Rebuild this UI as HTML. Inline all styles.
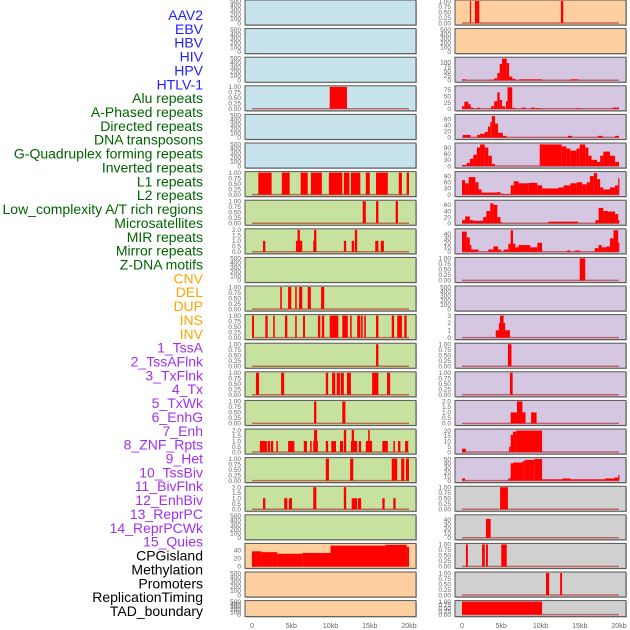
<!DOCTYPE html>
<html><head><meta charset="utf-8"><style>
html,body{margin:0;padding:0;background:#fff;width:630px;height:630px;overflow:hidden}
svg{display:block;font-family:"Liberation Sans",sans-serif}
</style></head><body>
<svg id="chart" width="630" height="630" viewBox="0 0 630 630" xmlns="http://www.w3.org/2000/svg"></svg>
<script>
const labels = ["AAV2","EBV","HBV","HIV","HPV","HTLV-1","Alu repeats","A-Phased repeats","Directed repeats","DNA transposons","G-Quadruplex forming repeats","Inverted repeats","L1 repeats","L2 repeats","Low_complexity A/T rich regions","Microsatellites","MIR repeats","Mirror repeats","Z-DNA motifs","CNV","DEL","DUP","INS","INV","1_TssA","2_TssAFlnk","3_TxFlnk","4_Tx","5_TxWk","6_EnhG","7_Enh","8_ZNF_Rpts","9_Het","10_TssBiv","11_BivFlnk","12_EnhBiv","13_ReprPC","14_ReprPCWk","15_Quies","CPGisland","Methylation","Promoters","ReplicationTiming","TAD_boundary"];
const labelGroups = ["v","v","v","v","v","v","r","r","r","r","r","r","r","r","r","r","r","r","r","c","c","c","c","c","s","s","s","s","s","s","s","s","s","s","s","s","s","s","s","o","o","o","o","o"];
const xTicks = [0,5,10,15,20];
const xTickLabels = ["0","5kb","10kb","15kb","20kb"];
const leftFill = ["b","b","b","b","b","b","g","g","g","g","g","g","g","g","g","g","g","g","g","o","o","o"];
const rightFill = ["o","o","p","p","p","p","p","p","p","p","p","p","p","p","p","p","p","gr","gr","gr","gr","gr"];
const leftTickType = ["big","big","big","unit","big","big","unit","unit","two","big","unit","unit","unit","unit","unit","two","unit","two","big","cpg","big","big"];
const rightTickType = ["unit","big","r3","r4","r5","r6","r6","r5","r9","unit","big","r12","unit","unit","two","r16","r17","unit","r9","unit","unit","unit"];
const leftBars = [
 [],[],[],[[9.9,12.1,1]],[],[],
 [[0.8,2.5,1],[3.8,4.8,1],[6.2,7.1,1],[7.5,8.9,1],[9.8,11.5,1],[11.7,12.4,1],[12.6,13.8,1],[14.5,15.0,1],[15.8,17.3,1],[18.7,19.1,1],[19.7,20.0,1]],
 [[14.1,14.5,1],[15.8,16.1,1],[18.3,18.6,1]],
 [[1.4,1.7,1],[5.6,6.4,1],[5.8,6.1,2],[7.8,8.2,1],[7.9,8.2,2],[11.7,12.0,1],[12.7,13.0,1],[13.1,13.4,2],[15.7,16.1,1],[16.4,16.8,1]],
 [],
 [[3.6,3.8,1],[4.6,5.0,1],[5.5,5.7,1],[6.0,6.4,1],[7.1,7.5,1],[8.8,9.2,1]],
 [[0,0.25,1],[1.7,2.0,1],[2.7,2.9,1],[4.2,4.5,1],[5.5,5.7,1],[6.5,6.75,1],[8.4,8.7,1],[8.9,9.2,1],[9.9,11.0,1],[11.5,12.2,1],[12.5,12.7,1],[13.4,13.8,1],[13.9,14.1,1],[14.3,14.5,1],[15.8,16.1,1],[17.8,18.1,1],[18.5,19.1,1],[19.4,19.7,1]],
 [[15.8,16.1,1]],
 [[0.5,0.9,1],[3.7,4.1,1],[9.4,9.7,1],[10.2,10.6,1],[10.8,11.2,1],[11.3,11.7,1],[12.1,12.6,1],[15.3,16.1,1],[17.2,17.6,1]],
 [[7.9,8.2,1],[11.5,11.9,1]],
 [[1.0,1.9,1],[2.0,2.3,1],[2.4,2.7,1],[3.1,3.3,1],[4.6,5.4,1],[6.6,7.0,1],[7.4,7.6,1],[7.8,8.4,1],[7.9,8.3,2],[9.4,9.7,1],[10.1,10.7,1],[11.2,11.6,1],[11.7,12.0,2],[12.6,13.4,1],[12.7,13.0,2],[13.6,13.9,1],[14.5,15.3,1],[14.8,15.0,2],[16.6,17.3,1],[18.0,18.2,1],[18.6,18.9,1],[19.5,19.9,1]],
 [[9.4,9.8,1],[12.5,12.9,1],[17.8,18.5,1],[19.0,19.4,1],[19.6,20.0,1]],
 [[1.4,1.7,1],[4.1,4.5,1],[4.7,5.1,1],[7.8,8.2,2],[11.7,12.0,2],[12.7,13.4,1],[13.5,13.9,1],[16.6,16.9,1],[18.0,18.3,1]],
 [],
 [[0,1.2,37],[1.2,3.2,35],[3.2,6.4,31],[6.4,10.0,33],[10.0,17.0,51],[17.0,19.7,53],[19.7,20.0,48]],
 [],[]
];
const rightBars = [
 [[1.0,1.15,1],[1.65,1.9,1],[1.9,2.2,1],[12.6,12.9,1]],
 [],
 [[0,0.5,5],[3.4,4.1,3],[4.1,4.5,10],[4.5,4.8,40],[4.8,5.1,90],[5.1,5.7,120],[5.7,6.0,95],[6.0,6.4,20],[6.4,6.8,8],[7.3,9.0,5],[9.0,10.2,5],[13.8,14.8,5]],
 [[0,0.3,10],[0.3,0.8,28],[0.8,1.1,18],[1.1,1.4,5],[1.9,2.3,4],[3.7,4.1,10],[4.1,4.5,30],[4.5,4.8,65],[4.8,5.1,35],[5.1,5.5,10],[5.6,5.8,30],[5.8,6.4,85],[6.4,6.8,4],[7.6,8.1,5],[8.8,9.2,5],[9.2,9.9,3],[14.6,15.0,3],[19.2,20.0,5]],
 [[0.1,1.1,8],[1.9,2.3,8],[2.3,2.9,12],[2.9,3.3,18],[3.3,3.6,35],[3.6,3.8,50],[3.8,4.2,70],[4.2,4.6,45],[4.6,5.2,15],[5.2,5.7,5],[13.5,14.0,5],[17.3,17.9,5],[19.5,20.0,5]],
 [[0,0.6,5],[0.6,1.0,15],[1.0,1.45,35],[1.45,1.9,55],[1.9,2.3,90],[2.3,2.9,105],[2.9,3.35,90],[3.35,3.8,50],[3.8,4.2,10],[9.9,12.7,105],[12.7,13.3,95],[13.3,13.8,85],[13.8,14.6,75],[14.6,15.0,85],[15.0,15.7,105],[15.7,16.1,90],[16.1,16.5,50],[16.5,17.2,30],[17.2,17.6,20],[17.6,18.0,50],[18.0,18.85,70],[18.85,19.5,50],[19.5,20,20]],
 [[0,0.4,70],[0.4,0.85,55],[0.85,1.7,85],[1.7,2.1,60],[2.1,2.5,25],[2.5,4.5,10],[4.5,4.9,12],[4.9,5.3,5],[5.3,6.2,3],[6.2,6.6,45],[6.6,7.2,65],[7.2,8.5,55],[8.5,9.6,57],[9.6,10.2,45],[10.2,12.3,30],[12.3,12.95,35],[12.95,13.8,45],[13.8,14.6,55],[14.6,15.3,60],[15.3,15.9,50],[15.9,16.3,60],[16.3,16.8,90],[16.8,17.2,105],[17.2,17.6,75],[17.6,18.0,35],[18.0,18.85,25],[18.85,19.5,35],[19.5,19.9,45],[19.9,20,80]],
 [[0,0.4,10],[0.4,1.0,22],[1.0,1.45,10],[1.45,2.7,8],[2.7,3.1,20],[3.1,3.6,40],[3.6,4.0,65],[4.0,4.5,60],[4.5,4.9,20],[4.9,5.1,3],[11.0,14.8,5],[17.0,17.4,10],[17.4,18.0,50],[18.0,18.6,40],[18.6,19.5,38],[19.5,19.9,30],[19.9,20,10]],
 [[0,0.6,45],[0.6,1.0,32],[1.0,1.2,15],[1.2,2.1,5],[3.35,4.0,5],[4.0,4.6,12],[4.6,5.0,5],[5.3,5.9,5],[5.9,6.2,18],[6.2,6.5,48],[6.5,6.8,18],[6.8,7.2,10],[7.2,8.7,15],[8.7,9.6,10],[9.6,10.2,20],[13.4,13.8,3],[14.4,15.0,3],[16.9,17.4,8],[17.4,17.8,15],[17.8,18.4,10],[18.4,18.85,12],[18.85,19.3,30],[19.3,19.9,48],[19.9,20,20]],
 [[15.0,15.7,1]],
 [],
 [[4.3,6.1,1],[4.7,5.5,2],[4.85,5.3,3]],
 [[5.85,6.3,1]],
 [[6.1,6.45,1]],
 [[6.2,8.1,1],[7.0,7.7,2],[8.8,9.5,1]],
 [[0,0.5,3],[6.0,6.2,5],[6.2,6.5,16],[6.5,6.9,19],[6.9,10.2,20]],
 [[0,0.4,5],[5.9,6.2,5],[6.2,6.5,40],[6.5,7.7,42],[7.7,8.0,45],[8.0,9.2,48],[9.2,10.2,50],[10.2,12.8,3],[12.8,13.8,5],[13.8,18.2,3],[18.2,19.4,5],[19.4,19.9,7],[19.9,20,13]],
 [[4.85,5.85,1]],
 [[3.05,3.65,42]],
 [[0.5,0.75,1],[2.55,2.9,1],[3.05,3.3,1],[5.0,5.7,1]],
 [[10.7,11.1,1],[12.5,12.75,1]],
 [[0,10.2,1]]
];
const tickValues = {big:[0,100,200,300,400,500],unit:[0,0.25,0.5,0.75,1],two:[0,0.5,1,1.5,2],cpg:[0,20,40],r3:[0,25,50,75,100],r4:[0,25,50,75],r5:[0,20,40,60],r6:[0,30,60,90],r9:[0,10,20,30,40],r12:[0,1,2,3],r16:[0,5,10,15,20],r17:[0,10,20,30,40,50]};
const tickText = {big:["0","100","200","300","400","500"],unit:["0.00","0.25","0.50","0.75","1.00"],two:["0.0","0.5","1.0","1.5","2.0"],cpg:["0","20","40"],r3:["0","25","50","75","100"],r4:["0","25","50","75"],r5:["0","20","40","60"],r6:["0","30","60","90"],r9:["0","10","20","30","40"],r12:["0","1","2","3"],r16:["0","5","10","15","20"],r17:["0","10","20","30","40","50"]};
const domainMax = {big:500,unit:1,two:2,cpg:54,r3:122,r4:87,r5:72,r6:107,r9:49,r12:3,r16:20.5,r17:51};

const NS="http://www.w3.org/2000/svg";
const svg=document.getElementById('chart');
function mk(tag,attrs,parent){const e=document.createElementNS(NS,tag);for(const k in attrs)e.setAttribute(k,attrs[k]);(parent||svg).appendChild(e);return e;}
const fills={b:"#c7e3ec",g:"#c7e19f",o:"#fecf9f",p:"#d5c6e2",gr:"#d0d0d0"};
const labelColors={v:"#2020ff",r:"#006400",c:"#ffa500",s:"#a030f0",o:"#000000"};

labels.forEach((t,i)=>{
  const e=mk('text',{x:203,y:20+i*13.86,'text-anchor':'end','font-size':14,fill:labelColors[labelGroups[i]]});
  e.textContent=t;
  
  
});

function drawColumn(px0,px1,x0kb,x1kb,fillArr,typeArr,barsArr,side){
  const sx=kb=>x0kb+(kb/20)*(x1kb-x0kb);
  for(let i=0;i<22;i++){
    const top=i*28.6, H=(i===21)?16:25;
    const g=mk('g',{});
    
    
    mk('rect',{x:px0+1,y:top+1,width:px1-px0,height:H,fill:'#bbbbbb'},g);
    mk('rect',{x:px0,y:top,width:px1-px0,height:H,fill:fills[fillArr[i]],stroke:'#555',"stroke-width":1},g);
    const type=typeArr[i], mx=domainMax[type];
    const y0=top+H-2, y1=top+1;
    const sy=v=>y0-(v/mx)*(y0-y1);
    const tv=tickValues[type], tt=tickText[type];
    tv.forEach((v,k)=>{
      const e=mk('text',{x:px0-4,y:sy(v)+2.3,'text-anchor':'end','font-size':6.5,fill:'#666'},g);
      e.textContent=tt[k];
      
      
    });
    const bars=barsArr[i];
    if(bars.length){
      mk('line',{x1:sx(0),x2:sx(20),y1:y0,y2:y0,stroke:'#b02020','stroke-opacity':0.6,'stroke-width':1.5},g);
    }
    bars.forEach(b=>{
      const x=sx(b[0]), w=Math.max(sx(b[1])-x,1.2), y=sy(b[2]);
      const r=mk('rect',{x:x,y:y,width:w,height:y0-y,fill:'#ff0000'},g);
      
      
    });
  }
  xTicks.forEach((v,k)=>{
    const e=mk('text',{x:sx(v),y:628,'text-anchor':'middle','font-size':7,fill:'#666'});
    e.textContent=xTickLabels[k];
    
    
  });
}
drawColumn(245,416,252,409,leftFill,leftTickType,leftBars,'left');
drawColumn(455,626,462,619,rightFill,rightTickType,rightBars,'right');
</script>
</body></html>
